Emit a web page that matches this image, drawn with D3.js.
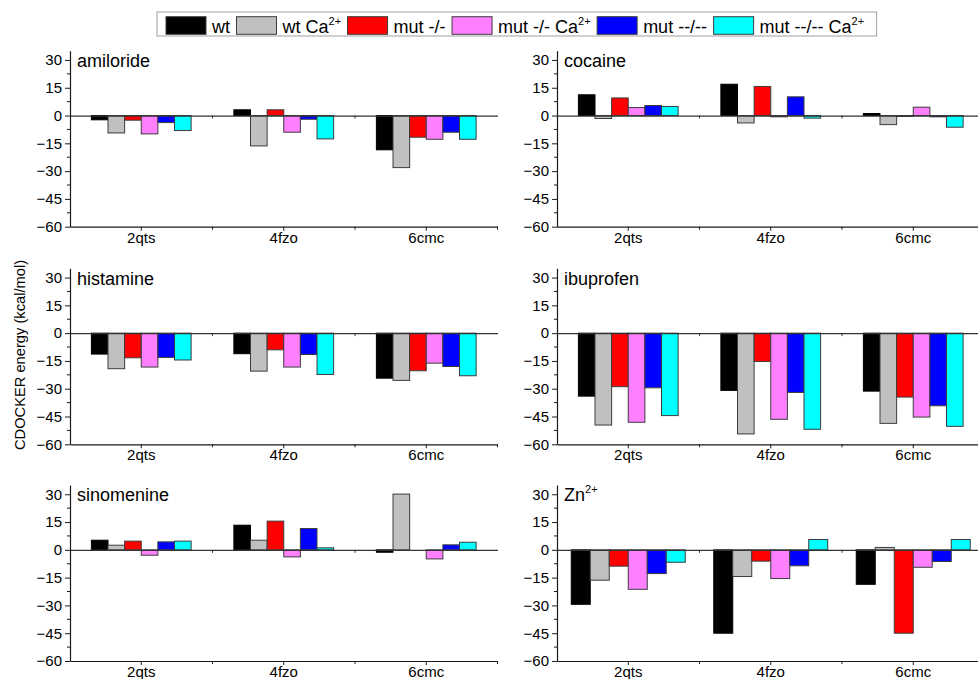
<!DOCTYPE html>
<html>
<head>
<meta charset="utf-8">
<script src="https://cdn.jsdelivr.net/npm/d3@7"></script>
<style>
  html, body { margin: 0; padding: 0; background: #fff; }
  svg { display: block; font-family: 'Liberation Sans', Arial, sans-serif; }
</style>
</head>
<body>
<svg id="chart"></svg>
<script>
// categories on the x axis
const categories = ['2qts', '4fzo', '6cmc'];

// series (legend) names, split so Ca2+ can carry a superscript
const seriesNames = ['wt', 'wt Ca', 'mut -/-', 'mut -/- Ca', 'mut --/--', 'mut --/-- Ca'];
const seriesSup = ['', '2+', '', '2+', '', '2+'];
const seriesColors = ['#000000', '#c0c0c0', '#ff0000', '#ff80ff', '#0000ff', '#00ffff'];

// y axis ticks
const yTicks = [-60, -45, -30, -15, 0, 15, 30];

// values per category: [wt, wt Ca, mut -/-, mut -/- Ca, mut --/--, mut --/-- Ca]
const amiloride = [
  [-2.3, -9.4, -2.5, -9.9, -3.8, -8.1],
  [3.1, -16.4, 3.1, -9.0, -2.0, -12.6],
  [-18.5, -28.1, -11.7, -12.8, -9.0, -12.8],
];
const cocaine = [
  [11.2, -1.6, 9.5, 4.3, 5.4, 4.9],
  [16.9, -4.0, 15.7, -0.7, 10.1, -1.4],
  [1.1, -4.9, -0.5, 4.5, -0.7, -6.3],
];
const histamine = [
  [-11.3, -19.2, -13.3, -18.3, -13.1, -14.5],
  [-11.1, -20.5, -9.0, -18.3, -11.5, -22.3],
  [-24.3, -25.5, -20.3, -16.2, -18.0, -23.0],
];
const ibuprofen = [
  [-34.0, -49.6, -28.9, -48.1, -29.5, -44.5],
  [-30.9, -54.4, -15.3, -46.5, -32.0, -51.9],
  [-31.3, -48.7, -34.5, -45.3, -39.2, -50.3],
];
const sinomenine = [
  [5.2, 2.5, 4.7, -2.9, 4.3, 4.7],
  [13.3, 5.2, 15.5, -3.8, 11.5, 1.1],
  [-1.3, 30.1, 0, -4.9, 2.7, 4.1],
];
const zinc = [
  [-29.4, -16.4, -8.8, -21.3, -12.8, -6.7],
  [-45.0, -14.4, -6.1, -15.5, -8.6, 5.6],
  [-18.6, 1.3, -45.0, -9.4, -6.3, 5.6],
];

const panels = [
  { title: 'amiloride', sup: '', data: amiloride, col: 0, row: 0, groupFrac: 0.70 },
  { title: 'cocaine', sup: '', data: cocaine, col: 1, row: 0, groupFrac: 0.70 },
  { title: 'histamine', sup: '', data: histamine, col: 0, row: 1, groupFrac: 0.70 },
  { title: 'ibuprofen', sup: '', data: ibuprofen, col: 1, row: 1, groupFrac: 0.70 },
  { title: 'sinomenine', sup: '', data: sinomenine, col: 0, row: 2, groupFrac: 0.70 },
  { title: 'Zn', sup: '2+', data: zinc, col: 1, row: 2, groupFrac: 0.80 },
];

const width = 978;
const height = 679;
const colLeft = [70, 557];        // y axis position of each column
const plotWidth = 427.5;           // 3 category bands
const rowBottom = [226.7, 444.3, 661];
const plotHeight = 176;            // -60 .. 35
const axisColor = '#1a1a1a';
const fontSize = 15;

const svg = d3.select('#chart').attr('width', width).attr('height', height).attr('viewBox', [0, 0, width, height]);

panels.forEach((p) => {
  const x0 = colLeft[p.col];
  const y1 = rowBottom[p.row];
  const g = svg.append('g');

  const x = d3.scaleBand(categories, [x0, x0 + plotWidth]).paddingInner(0).paddingOuter(0);
  const y = d3.scaleLinear([-60, 35], [y1, y1 - plotHeight]);
  const groupW = x.bandwidth() * p.groupFrac;
  const xs = d3.scaleBand(d3.range(seriesNames.length), [0, groupW]).padding(0);

  // bars
  categories.forEach((c, ci) => {
    g.append('g')
      .attr('transform', `translate(${x(c) + (x.bandwidth() - groupW) / 2},0)`)
      .selectAll('rect')
      .data(p.data[ci])
      .join('rect')
      .attr('x', (_, i) => xs(i))
      .attr('width', xs.bandwidth())
      .attr('y', (v) => Math.min(y(v), y(0)))
      .attr('height', (v) => Math.abs(y(v) - y(0)))
      .attr('fill', (_, i) => seriesColors[i])
      .attr('stroke', (_, i) => (i === 0 ? '#000' : '#3c3c3c'))
      .attr('stroke-width', 1);
  });

  // zero line with minor ticks at band edges
  const zeroAxis = d3.axisBottom(x).tickSize(0).tickFormat('');
  g.append('g')
    .attr('transform', `translate(0,${y(0)})`)
    .call(zeroAxis)
    .call((a) => a.select('.domain').attr('stroke', '#333').attr('stroke-width', 1.2))
    .call((a) =>
      a.selectAll('.edge')
        .data(categories.slice(1))
        .join('line')
        .attr('class', 'edge')
        .attr('x1', (c) => x(c))
        .attr('x2', (c) => x(c))
        .attr('y1', 0)
        .attr('y2', 3)
        .attr('stroke', '#333'),
    );

  // bottom axis
  const xAxis = d3.axisBottom(x).tickSizeOuter(0).tickSizeInner(4).tickPadding(1.5);
  g.append('g')
    .attr('transform', `translate(0,${y1})`)
    .call(xAxis)
    .call((a) => a.select('.domain').attr('stroke', axisColor).attr('stroke-width', 1.2))
    .call((a) => a.selectAll('.tick line').attr('stroke', axisColor))
    .call((a) => a.selectAll('.tick text').attr('font-size', fontSize).attr('fill', '#000').attr('font-family', null))
    .call((a) =>
      a.selectAll('.edge')
        .data(categories.slice(1).concat(['end']))
        .join('line')
        .attr('class', 'edge')
        .attr('x1', (c) => (c === 'end' ? x0 + plotWidth : x(c)))
        .attr('x2', (c) => (c === 'end' ? x0 + plotWidth : x(c)))
        .attr('y1', 0)
        .attr('y2', 3)
        .attr('stroke', axisColor),
    );

  // left axis
  const yAxis = d3.axisLeft(y).tickValues(yTicks).tickSizeOuter(0).tickSizeInner(5).tickPadding(3);
  g.append('g')
    .attr('transform', `translate(${x0},0)`)
    .call(yAxis)
    .call((a) => a.select('.domain').attr('stroke', axisColor).attr('stroke-width', 1.2))
    .call((a) => a.selectAll('.tick line').attr('stroke', axisColor))
    .call((a) => a.selectAll('.tick text').attr('font-size', fontSize).attr('fill', '#000').attr('font-family', null))
    .call((a) =>
      a.selectAll('.minor')
        .data(yTicks.slice(1).map((t) => t - 7.5))
        .join('line')
        .attr('class', 'minor')
        .attr('x1', 0)
        .attr('x2', -3)
        .attr('y1', (v) => y(v))
        .attr('y2', (v) => y(v))
        .attr('stroke', axisColor),
    );

  // panel title
  const t = g.append('text')
    .attr('x', x0 + 7)
    .attr('y', y(30) + 7)
    .attr('font-size', 18)
    .attr('fill', '#000')
    .text(p.title);
  if (p.sup) {
    t.append('tspan').attr('dy', -8).attr('font-size', 11).text(p.sup);
  }
});

// y axis title
svg.append('text')
  .attr('transform', `translate(25,355) rotate(-90)`)
  .attr('text-anchor', 'middle')
  .attr('font-size', 14.7)
  .attr('fill', '#000')
  .text('CDOCKER energy (kcal/mol)');

// legend
const legend = svg.append('g');
const legendBox = legend.append('rect')
  .attr('fill', '#fff')
  .attr('stroke', '#a0a0a0')
  .attr('stroke-width', 1);
let lx = 166;
const ly = 16.7;
seriesNames.forEach((name, i) => {
  legend.append('rect')
    .attr('x', lx)
    .attr('y', ly)
    .attr('width', 40)
    .attr('height', 17.6)
    .attr('fill', seriesColors[i])
    .attr('stroke', '#3c3c3c')
    .attr('stroke-width', 1);
  const txt = legend.append('text')
    .attr('x', lx + 46)
    .attr('y', ly + 15.8)
    .attr('font-size', 18)
    .attr('fill', '#000')
    .text(name);
  if (seriesSup[i]) {
    txt.append('tspan').attr('dy', -8).attr('font-size', 11).text(seriesSup[i]);
  }
  lx = lx + 46 + txt.node().getComputedTextLength() + 6.5;
});
legendBox
  .attr('x', 157)
  .attr('y', 12)
  .attr('width', lx - 157 + 6)
  .attr('height', 24);
</script>
</body>
</html>
